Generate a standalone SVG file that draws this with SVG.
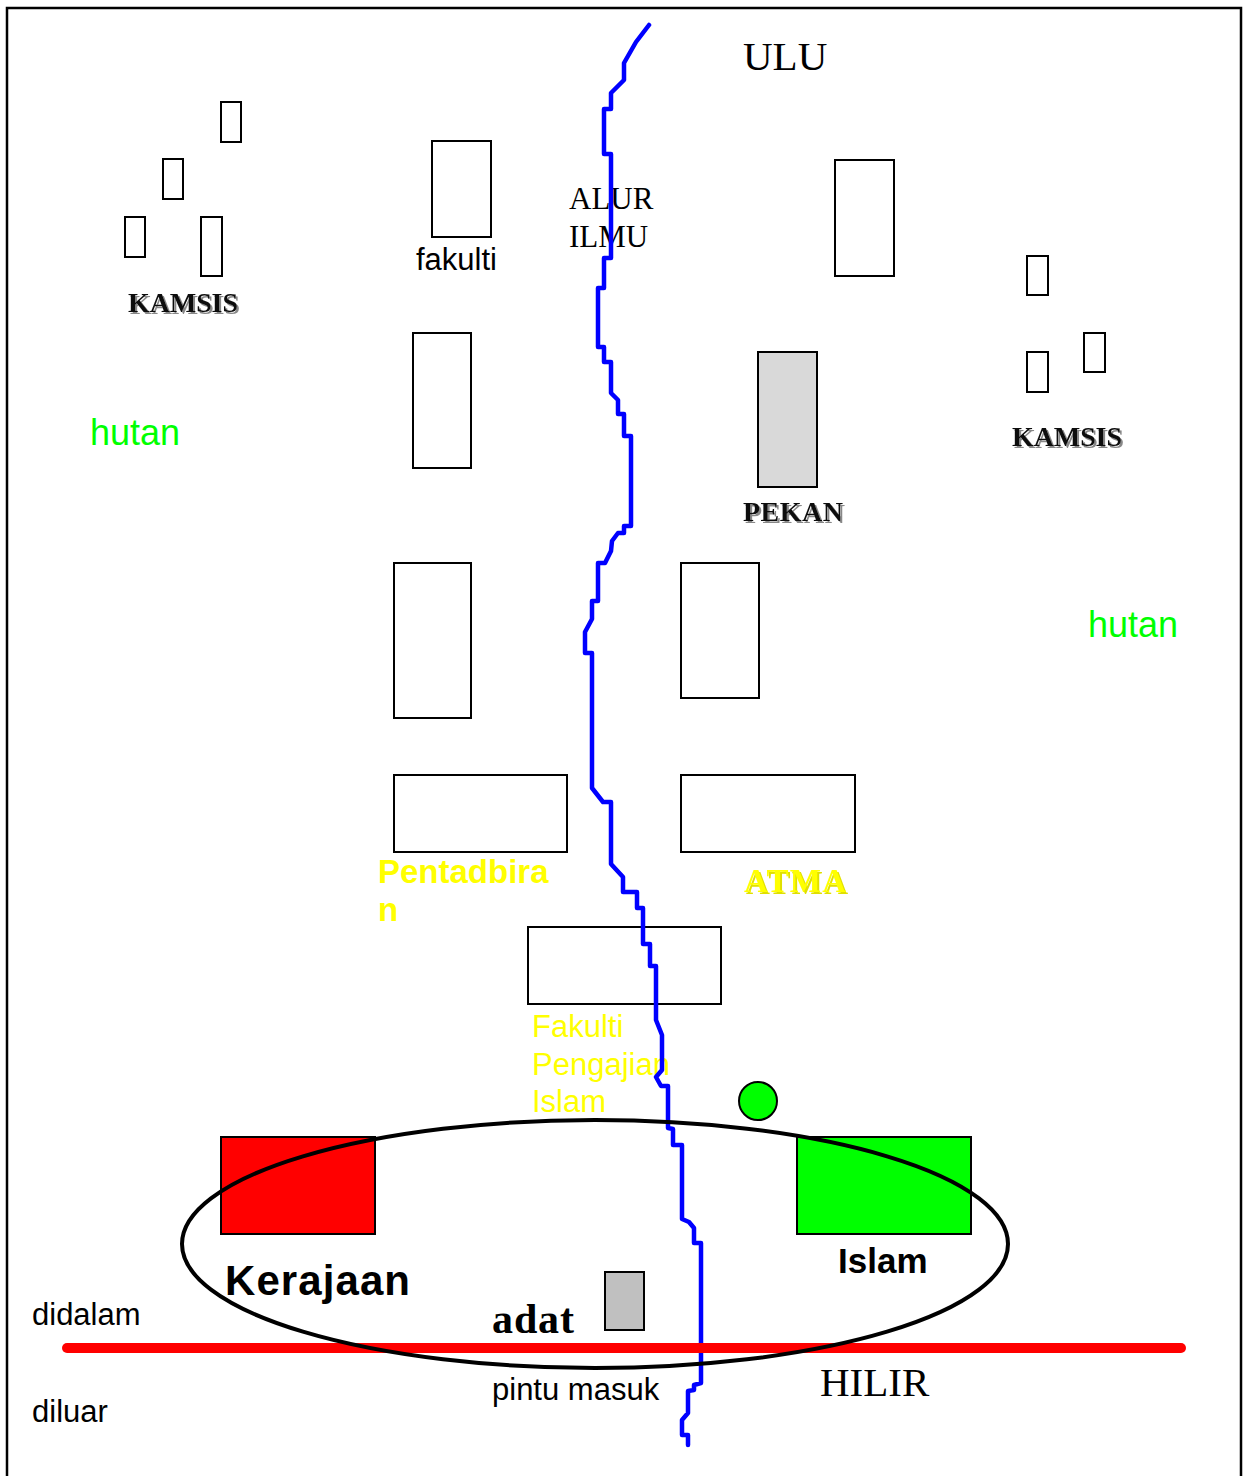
<svg xmlns="http://www.w3.org/2000/svg" width="1250" height="1476" viewBox="0 0 1250 1476">
<style>
.box{fill:#fff;stroke:#000;stroke-width:2}
.sans{font-family:"Liberation Sans",Arial,sans-serif}
.serif{font-family:"Liberation Serif","Times New Roman",serif}
.fancy{font-family:"Liberation Serif","Times New Roman",serif;font-weight:bold;fill:#111;filter:url(#shadow)}
.hutan{font-family:"Liberation Sans",Arial,sans-serif;font-size:36px;fill:#00FF00}
.yellow{fill:#FFFF00}
</style>
<defs>
<filter id="shadow" x="-10%" y="-20%" width="130%" height="150%">
<feOffset in="SourceAlpha" dx="1.5" dy="1.5" result="o"/>
<feFlood flood-color="#888"/>
<feComposite in2="o" operator="in" result="s"/>
<feMerge><feMergeNode in="s"/><feMergeNode in="SourceGraphic"/></feMerge>
</filter>
<filter id="yshadow" x="-10%" y="-20%" width="130%" height="150%">
<feOffset in="SourceAlpha" dx="1.5" dy="1.5" result="o"/>
<feFlood flood-color="#E0E000"/>
<feComposite in2="o" operator="in" result="s"/>
<feMerge><feMergeNode in="s"/><feMergeNode in="SourceGraphic"/></feMerge>
</filter>
</defs>
<rect x="0" y="0" width="1250" height="1476" fill="#fff"/>
<rect id="border" x="7" y="8" width="1234" height="1490" fill="none" stroke="#000" stroke-width="2.5"/>

<g id="kamsis-left">
<rect class="box" x="221" y="102" width="20" height="40"/>
<rect class="box" x="163" y="159" width="20" height="40"/>
<rect class="box" x="125" y="217" width="20" height="40"/>
<rect class="box" x="201" y="217" width="21" height="59"/>
<text class="fancy" x="128" y="312" font-size="28" textLength="110">KAMSIS</text>
</g>

<g id="fakulti">
<rect class="box" x="432" y="141" width="59" height="96"/>
<text class="sans" x="416" y="270" font-size="31">fakulti</text>
</g>

<g id="ulu"><text class="serif" x="743" y="70" font-size="41">ULU</text></g>

<g id="alur-ilmu">
<text class="serif" x="569" y="209" font-size="31">ALUR</text>
<text class="serif" x="569" y="247" font-size="31">ILMU</text>
</g>

<g id="box-top-right"><rect class="box" x="835" y="160" width="59" height="116"/></g>

<g id="kamsis-right">
<rect class="box" x="1027" y="256" width="21" height="39"/>
<rect class="box" x="1027" y="352" width="21" height="40"/>
<rect class="box" x="1084" y="333" width="21" height="39"/>
<text class="fancy" x="1012" y="446" font-size="28" textLength="110">KAMSIS</text>
</g>

<g id="hutan-left"><text class="hutan" x="90" y="445">hutan</text></g>
<g id="hutan-right"><text class="hutan" x="1088" y="637">hutan</text></g>

<g id="box-mid-left"><rect class="box" x="413" y="333" width="58" height="135"/></g>

<g id="pekan">
<rect x="758" y="352" width="59" height="135" fill="#D9D9D9" stroke="#000" stroke-width="2"/>
<text class="fancy" x="743" y="521" font-size="28" textLength="100">PEKAN</text>
</g>

<g id="box-row3-left"><rect class="box" x="394" y="563" width="77" height="155"/></g>
<g id="box-row3-right"><rect class="box" x="681" y="563" width="78" height="135"/></g>

<g id="pentadbiran">
<rect class="box" x="394" y="775" width="173" height="77"/>
<text class="sans yellow" x="378" y="883" font-size="33" font-weight="bold">Pentadbira</text>
<text class="sans yellow" x="378" y="921" font-size="33" font-weight="bold">n</text>
</g>

<g id="atma">
<rect class="box" x="681" y="775" width="174" height="77"/>
<text class="serif yellow" x="744" y="892" font-size="33" font-weight="bold" filter="url(#yshadow)" textLength="102">ATMA</text>
</g>

<g id="fakulti-pengajian-islam">
<rect class="box" x="528" y="927" width="193" height="77"/>
<text class="sans yellow" x="532" y="1037" font-size="31">Fakulti</text>
<text class="sans yellow" x="532" y="1075" font-size="31">Pengajian</text>
<text class="sans yellow" x="532" y="1112" font-size="31">Islam</text>
</g>

<g id="circle"><circle cx="758" cy="1101" r="19" fill="#00FF00" stroke="#000" stroke-width="2"/></g>

<g id="kerajaan">
<rect x="221" y="1137" width="154" height="97" fill="#FF0000" stroke="#000" stroke-width="2"/>
<text class="sans" x="225" y="1295" font-size="42" font-weight="bold" textLength="185">Kerajaan</text>
</g>

<g id="islam">
<rect x="797" y="1137" width="174" height="97" fill="#00FF00" stroke="#000" stroke-width="2"/>
<text class="sans" x="838" y="1273" font-size="35" font-weight="bold">Islam</text>
</g>

<g id="adat">
<rect x="605" y="1272" width="39" height="58" fill="#C0C0C0" stroke="#000" stroke-width="2"/>
<text class="serif" x="492" y="1333" font-size="42" font-weight="bold" textLength="82">adat</text>
</g>

<g id="connectors">
<polyline fill="none" stroke="#0000FF" stroke-width="4.5" stroke-linejoin="round" stroke-linecap="round" points="649,25 636,42 624,63 624,80 611,93 611,109 604,109 604,154 611,154 611,258 604,258 604,288 598,288 598,347 604,347 604,362 611,362 611,393 618,400 618,414 624,414 624,436 631,436 631,526 624,526 624,533 618,533 612,541 611,551 605,563 598,563 598,601 592,601 592,619 585,632 585,653 592,653 592,788 603,802 611,802 611,864 623,877 623,892 637,892 637,908 643,908 643,944 650,944 650,966 656,966 656,1020 662,1035 662,1070 656,1077 661,1086 668,1086 668,1128 673,1129 673,1145 682,1145 682,1219 689,1222 694,1228 694,1243 701,1243 701,1383 694,1385 694,1390 688,1391 688,1413 682,1420 682,1435 688,1435 688,1445"/>
<line x1="67" y1="1348" x2="1181" y2="1348" stroke="#FF0000" stroke-width="10" stroke-linecap="round"/>
<ellipse cx="595" cy="1244" rx="413" ry="124" fill="none" stroke="#000" stroke-width="4"/>
</g>

<g id="labels">
<text class="sans" x="32" y="1325" font-size="31">didalam</text>
<text class="sans" x="32" y="1422" font-size="31">diluar</text>
<text class="sans" x="492" y="1400" font-size="31">pintu masuk</text>
<text class="serif" x="820" y="1396" font-size="41">HILIR</text>
</g>
</svg>
